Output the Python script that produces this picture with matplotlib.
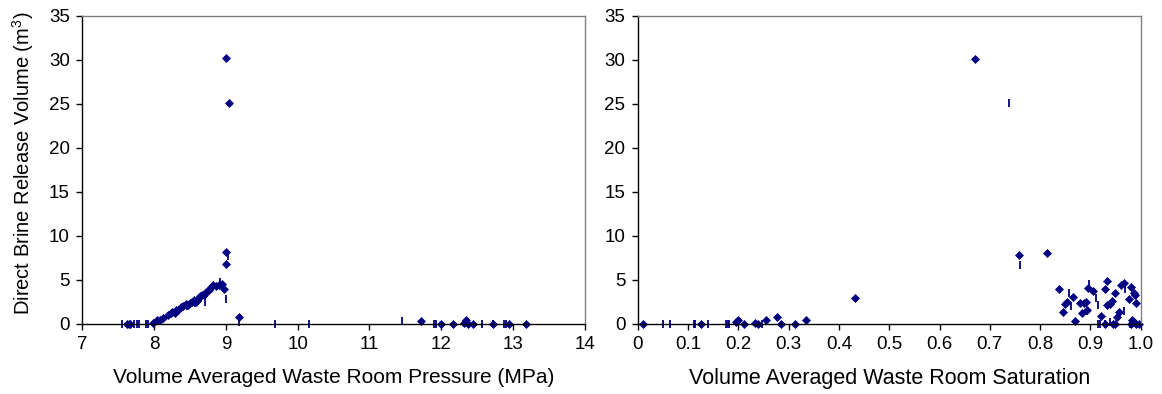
import numpy as np
import matplotlib
matplotlib.use("Agg")
import matplotlib.pyplot as plt
from matplotlib.ticker import FuncFormatter

plt.rcParams['font.family'] = ['Liberation Sans', 'DejaVu Sans']
plt.rcParams['mathtext.default'] = 'regular'

# Left panel: pressure (MPa) vs direct brine release volume (m3)
# points that show up as diamonds
p_dia = [7.63, 7.65, 7.67, 7.99, 8.04, 8.08, 8.12, 8.2, 8.23, 8.25, 8.29, 8.31, 8.34,
         8.38, 8.41, 8.44, 8.47, 8.5, 8.53, 8.55, 8.58, 8.6, 8.64, 8.67, 8.7, 8.73,
         8.76, 8.8, 8.82, 8.86, 8.9, 8.94, 8.97, 9.0, 9.04, 9.0, 9.0, 9.19,
         11.72, 12.0, 12.17, 12.32, 12.35, 12.37, 12.45, 12.72, 12.95, 13.18]
v_dia = [0.0, 0.0, 0.0, 0.05, 0.4, 0.45, 0.7, 1.0, 1.2, 1.35, 1.25, 1.55, 1.6,
         1.9, 2.0, 2.2, 2.1, 2.3, 2.5, 2.7, 2.5, 2.7, 3.2, 3.3, 3.3, 3.6,
         3.8, 4.2, 4.4, 4.3, 4.4, 4.5, 3.9, 30.2, 25.1, 8.1, 6.8, 0.75,
         0.35, 0.0, 0.0, 0.05, 0.4, 0.0, 0.0, 0.0, 0.0, 0.0]
# points that show up as thin vertical dashes
p_dash = [7.56, 7.72, 7.76, 7.79, 7.89, 7.92, 8.71, 8.92, 9.0, 9.03, 9.19,
          9.68, 10.16, 11.46, 11.9, 11.93, 12.57, 12.72, 12.87, 12.9,
          8.33, 8.46, 8.57, 8.66]
v_dash = [0.0, 0.0, 0.0, 0.0, 0.0, 0.0, 2.5, 4.7, 2.8, 7.7, 0.2,
          0.0, 0.0, 0.3, 0.0, 0.0, 0.0, 0.0, 0.0, 0.0,
          1.4, 2.0, 2.4, 2.9]

# Right panel: saturation vs direct brine release volume (m3)
s_dia = [0.011, 0.125, 0.195, 0.2, 0.21, 0.232, 0.239, 0.254, 0.276, 0.284, 0.312,
         0.334, 0.432, 0.67, 0.759, 0.814,
         0.837, 0.846, 0.849, 0.854, 0.866, 0.87, 0.879, 0.884, 0.888, 0.891, 0.893,
         0.896, 0.906, 0.921, 0.929, 0.934, 0.934, 0.939, 0.944, 0.949, 0.95, 0.954,
         0.957, 0.961, 0.966, 0.977, 0.981, 0.986, 0.989, 0.991, 0.982, 0.986,
         0.93, 0.945, 0.98, 0.99, 0.997]
sv_dia = [0.0, 0.0, 0.2, 0.4, 0.0, 0.1, 0.0, 0.4, 0.8, 0.0, 0.0,
          0.4, 2.96, 30.1, 7.8, 8.0,
          3.9, 1.37, 2.24, 2.5, 3.07, 0.3, 2.3, 1.2, 2.3, 2.5, 1.55,
          4.1, 3.75, 0.87, 4.0, 4.8, 2.1, 2.24, 2.6, 3.45, 0.0, 0.8,
          1.37, 4.4, 4.6, 2.77, 4.2, 3.45, 3.26, 2.3, 0.4, 0.15,
          0.0, 0.0, 0.0, 0.0, 0.0]
s_dash = [0.049, 0.064, 0.111, 0.114, 0.139, 0.175, 0.179, 0.182, 0.246,
          0.738, 0.761, 0.858, 0.862, 0.893, 0.898, 0.911, 0.915, 0.968, 0.966,
          0.916, 0.92, 0.929, 0.979, 0.94]
sv_dash = [0.0, 0.0, 0.0, 0.0, 0.0, 0.0, 0.0, 0.0, 0.0,
           25.1, 6.7, 3.5, 2.0, 1.4, 4.5, 2.9, 2.1, 4.0, 1.5,
           0.0, 0.0, 0.0, 0.0, 0.2]

navy = '#000080'

fig = plt.figure(figsize=(11.62, 3.94), dpi=100)
ax1 = fig.add_axes([0.0708, 0.1784, 0.4324, 0.7817])
ax2 = fig.add_axes([0.549, 0.1784, 0.4326, 0.7817])


def style(ax):
    for side in ['top', 'right']:
        ax.spines[side].set_color('#808080')
    for side in ['left', 'bottom']:
        ax.spines[side].set_color('black')
    for sp in ax.spines.values():
        sp.set_linewidth(1.0)
    ax.tick_params(direction='out', length=4, width=1, labelsize=13.5, pad=5)
    ax.set_ylim(0, 35)
    ax.set_yticks(np.arange(0, 36, 5))


ax1.plot(p_dia, v_dia, 'D', color=navy, ms=4.4, mew=0.5, clip_on=False)
ax1.plot(p_dash, v_dash, '|', color=navy, ms=6, mew=1.3, clip_on=False)
ax1.set_xlim(7, 14)
ax1.set_xticks(range(7, 15))
style(ax1)
ax1.set_xlabel('Volume Averaged Waste Room Pressure (MPa)', fontsize=15, labelpad=11)
ax1.set_ylabel('Direct Brine Release Volume (m$^3$)', fontsize=14.5)
ax1.yaxis.set_label_coords(-0.093, 0.52)

ax2.plot(s_dia, sv_dia, 'D', color=navy, ms=4.4, mew=0.5, clip_on=False)
ax2.plot(s_dash, sv_dash, '|', color=navy, ms=6, mew=1.3, clip_on=False)
ax2.set_xlim(0, 1)
ax2.set_xticks(np.arange(0, 1.01, 0.1))
ax2.xaxis.set_major_formatter(FuncFormatter(lambda v, pos: '0' if v == 0 else f'{v:.1f}'))
style(ax2)
ax2.set_xlabel('Volume Averaged Waste Room Saturation', fontsize=15.5, labelpad=11)

fig.savefig('out.png', dpi=100)
